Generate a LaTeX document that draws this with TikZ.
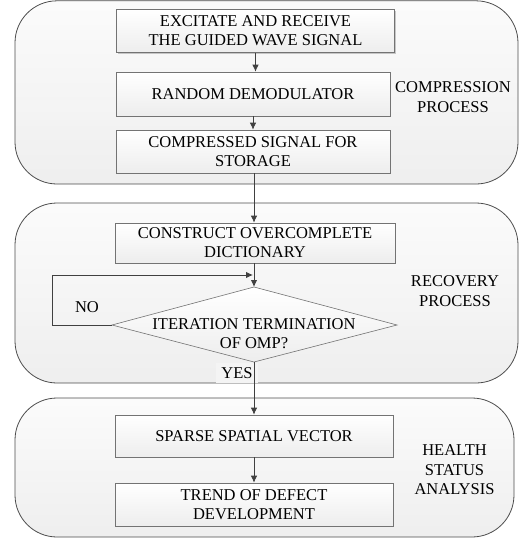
\documentclass[tikz,border=0pt]{standalone}
\usepackage{fontspec}
\newfontfamily\tnr{Liberation Serif}[Scale=1.0]
\usetikzlibrary{arrows.meta,shadows}
\begin{document}
\begin{tikzpicture}[x=1pt,y=-1pt,
  grp/.style={draw=black!70,line width=0.8pt,rounded corners=42pt,top color=gray!3,bottom color=gray!13},
  stepbox/.style={draw=black!55,line width=0.6pt,top color=white,bottom color=gray!14,
    minimum width=278pt,minimum height=43pt,inner sep=0pt,align=center,
    drop shadow={shadow xshift=1.2pt,shadow yshift=-1.2pt,fill=black!35,opacity=0.6},
    font=\tnr\fontsize{16.5}{19}\selectfont},
  lbl/.style={align=center,font=\tnr\fontsize{16.5}{19.5}\selectfont,inner sep=0pt},
  conn/.style={draw=black!75,line width=0.9pt},
  arr/.style={conn,-{Latex[length=7pt,width=6.5pt]}}]
\useasboundingbox (0,0) rectangle (522,539);
% groups
\path[grp] (15,0.8) rectangle (518,184);
\path[grp] (15,203) rectangle (518,383);
\path[grp] (15,398) rectangle (514,537);
% boxes
\node[stepbox] (b1) at (255.5,31) {EXCITATE AND RECEIVE\\THE GUIDED WAVE SIGNAL};
\node[stepbox,minimum width=274pt,minimum height=44pt] (b2) at (253,94) {RANDOM DEMODULATOR};
\node[stepbox,minimum width=274pt] (b3) at (253,151.5) {COMPRESSED SIGNAL FOR\\STORAGE};
\node[stepbox,minimum width=280pt,minimum height=40pt] (b4) at (255,243) {CONSTRUCT OVERCOMPLETE\\DICTIONARY};
\node[stepbox,minimum height=42pt] (b5) at (254,436) {SPARSE SPATIAL VECTOR};
\node[stepbox,minimum height=43pt] (b6) at (254,504.5) {TREND OF DEFECT\\DEVELOPMENT};
% decision diamond
\coordinate (dt) at (254,287);
\coordinate (dr) at (397,325);
\coordinate (db) at (254,362);
\coordinate (dl) at (112,325);
\draw[draw=black!55,line width=0.6pt,top color=white,bottom color=gray!14] (dt) -- (dr) -- (db) -- (dl) -- cycle;
\node[lbl,font=\tnr\fontsize{16.5}{19}\selectfont] (dtext) at (254,334) {ITERATION TERMINATION\\OF OMP?};
% labels
\node[lbl] (l1) at (453,97) {COMPRESSION\\PROCESS};
\node[lbl] (l2) at (455,291) {RECOVERY\\PROCESS};
\node[lbl] (l3) at (454.5,470) {HEALTH\\STATUS\\ANALYSIS};
\node[lbl] (no) at (87,307) {NO};
% connectors
\draw[arr] (b1.south) -- (b2.north -| b1.south);
\draw[arr] (b2.south) -- (b3.north);
\draw[arr] (b3.south -| 254,0) -- (b4.north -| 254,0);
\draw[arr] (b4.south -| 254,0) -- (dt);
\coordinate (nol) at (52,325);
\coordinate (noend) at (253,275);
\draw[arr] (dl) -- (nol) |- (noend);
\node[lbl,fill=gray!9,minimum width=42pt,minimum height=20pt] (yes) at (237,373) {YES};
\draw[arr] (db) -- (b5.north -| db);
\draw[arr] (b5.south) -- (b6.north);
\end{tikzpicture}
\end{document}
